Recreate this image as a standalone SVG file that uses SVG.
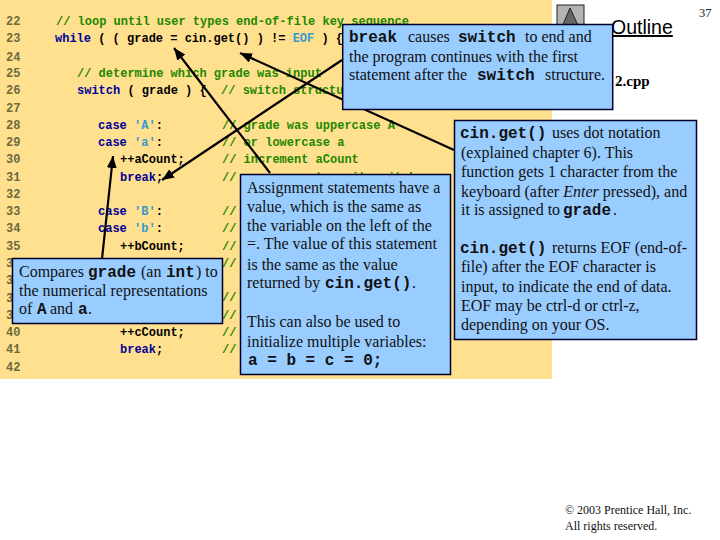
<svg xmlns="http://www.w3.org/2000/svg" width="720" height="540" viewBox="0 0 720 540">
<style>
text{white-space:pre}
.n{font:bold 12px "Liberation Mono",monospace;fill:#6b6b3c}
.c{font:bold 12px "Liberation Mono",monospace;fill:#000}
.k{fill:#000099}.g{fill:#228800}.t{fill:#3399cc}
.box{fill:#99ccff;stroke:#00002a;stroke-width:1.5}
.s{font:16px "Liberation Serif",serif;fill:#111}
.m{font:bold 16px "Liberation Mono",monospace;fill:#111}
.cn{fill:none;stroke:#000;stroke-width:2.2;marker-end:url(#ah)}
</style>
<defs><marker id="ah" markerUnits="userSpaceOnUse" markerWidth="14" markerHeight="12" refX="12" refY="5" orient="auto"><path d="M0 0L12 5L0 10z" fill="#000"/></marker></defs>
<rect width="720" height="540" fill="#fff"/>
<rect width="552" height="379" fill="#ffe08f"/>
<g id="code">
<text class="n" x="6" y="25">22</text><text class="n" x="6" y="42">23</text><text class="n" x="6" y="61">24</text><text class="n" x="6" y="77">25</text><text class="n" x="6" y="94">26</text><text class="n" x="6" y="112">27</text><text class="n" x="6" y="129">28</text><text class="n" x="6" y="146">29</text><text class="n" x="6" y="163">30</text><text class="n" x="6" y="181">31</text><text class="n" x="6" y="198">32</text><text class="n" x="6" y="215">33</text><text class="n" x="6" y="232">34</text><text class="n" x="6" y="250">35</text><text class="n" x="6" y="267">36</text><text class="n" x="6" y="284">37</text><text class="n" x="6" y="302">38</text><text class="n" x="6" y="319">39</text><text class="n" x="6" y="336">40</text><text class="n" x="6" y="353">41</text><text class="n" x="6" y="371">42</text>
<text class="c g" x="56" y="25">// loop until user types end-of-file key sequence</text>
<text class="c" x="55" y="42"><tspan class="k">while</tspan> ( ( grade = cin.get() ) != <tspan class="t">EOF</tspan> ) {</text>
<text class="c g" x="77" y="77">// determine which grade was input</text>
<text class="c" x="77" y="94"><tspan class="k">switch</tspan> ( grade ) {  <tspan class="g">// switch structure</tspan></text>
<text class="c" x="98" y="129"><tspan class="k">case</tspan> <tspan class="t">'A'</tspan>:</text>
<text class="c g" x="222" y="129">// grade was uppercase A</text>
<text class="c" x="98" y="146"><tspan class="k">case</tspan> <tspan class="t">'a'</tspan>:</text>
<text class="c g" x="222" y="146">// or lowercase a</text>
<text class="c" x="120" y="163">++aCount;</text>
<text class="c g" x="222" y="163">// increment aCount</text>
<text class="c k" x="120" y="181">break<tspan fill="#000">;</tspan></text>
<text class="c g" x="222" y="181">// necessary to exit switch</text>
<text class="c" x="98" y="215"><tspan class="k">case</tspan> <tspan class="t">'B'</tspan>:</text>
<text class="c g" x="222" y="215">//</text>
<text class="c" x="98" y="232"><tspan class="k">case</tspan> <tspan class="t">'b'</tspan>:</text>
<text class="c g" x="222" y="232">//</text>
<text class="c" x="120" y="250">++bCount;</text>
<text class="c g" x="222" y="250">//</text>
<text class="c g" x="222" y="267">//</text>
<text class="c g" x="222" y="301">//</text>
<text class="c g" x="222" y="319">//</text>
<text class="c" x="120" y="336">++cCount;</text>
<text class="c g" x="222" y="336">//</text>
<text class="c k" x="120" y="353">break<tspan fill="#000">;</tspan></text>
<text class="c g" x="222" y="353">//</text>
</g>
<g id="outline-nav">
<rect x="557" y="5" width="27" height="30" fill="#b3b3b3" stroke="#222" stroke-width="1"/>
<path d="M570 8L559 34H582z" fill="#666" stroke="#222" stroke-width="1"/>
<text x="611" y="34" font-family="Liberation Sans,sans-serif" font-size="19.5" text-decoration="underline" fill="#000">Outline</text>
<text x="615" y="86" font-family="Liberation Serif,serif" font-weight="bold" font-size="15" fill="#000">2.cpp</text>
<text x="699" y="17" font-family="Liberation Serif,serif" font-size="12.5" fill="#222">37</text>
</g>
<g id="connectors">
<path class="cn" d="M342 60L162 180"/>
<path class="cn" d="M454 150L240 53"/>
<path class="cn" d="M270 173L174 48"/>
<path class="cn" d="M102 259L113 156"/>
</g>
<g id="note-break">
<rect class="box" x="342.7" y="24.5" width="270" height="85"/>
<text class="m" x="349" y="42">break</text><text class="s" x="408" y="42">causes</text><text class="m" x="458" y="42">switch</text><text class="s" x="525" y="42">to end and</text>
<text class="s" x="349" y="62">the program continues with the first</text>
<text class="s" x="349" y="80">statement after the</text><text class="m" x="477" y="80">switch</text><text class="s" x="545" y="80">structure.</text>
</g>
<g id="note-cinget">
<rect class="box" x="454.5" y="120.5" width="242" height="219"/>
<text class="m" x="460" y="138">cin.get()</text><text class="s" x="552" y="138">uses dot notation</text>
<text class="s" x="461" y="158">(explained chapter 6). This</text>
<text class="s" x="461" y="177">function gets 1 character from the</text>
<text class="s" x="461" y="197">keyboard (after <tspan font-style="italic">Enter</tspan> pressed), and</text>
<text class="s" x="461" y="215">it is assigned to</text><text class="m" x="563" y="215">grade</text><text class="s" x="613" y="215">.</text>
<text class="m" x="460" y="253">cin.get()</text><text class="s" x="552" y="253">returns EOF (end-of-</text>
<text class="s" x="461" y="272">file) after the EOF character is</text>
<text class="s" x="461" y="292">input, to indicate the end of data.</text>
<text class="s" x="461" y="311">EOF may be ctrl-d or ctrl-z,</text>
<text class="s" x="461" y="330">depending on your OS.</text>
</g>
<g id="note-assign">
<rect class="box" x="240.5" y="174.5" width="210" height="200"/>
<text class="s" x="247" y="193">Assignment statements have a</text>
<text class="s" x="247" y="212">value, which is the same as</text>
<text class="s" x="247" y="231">the variable on the left of the</text>
<text class="s" x="247" y="249">=. The value of this statement</text>
<text class="s" x="247" y="270">is the same as the value</text>
<text class="s" x="247" y="288">returned by</text><text class="m" x="325" y="288">cin.get()</text><text class="s" x="412" y="288">.</text>
<text class="s" x="247" y="327">This can also be used to</text>
<text class="s" x="247" y="347">initialize multiple variables:</text>
<text class="m" x="248" y="365">a = b = c = 0;</text>
</g>
<g id="note-compare">
<rect class="box" x="12.5" y="258.5" width="210" height="65"/>
<text class="s" x="19" y="277">Compares</text><text class="m" x="88" y="277">grade</text><text class="s" x="141" y="277">(an</text><text class="m" x="166" y="277">int</text><text class="s" x="196" y="277">) to</text>
<text class="s" x="19" y="296">the numerical representations</text>
<text class="s" x="19" y="314">of</text><text class="m" x="37" y="314">A</text><text class="s" x="50" y="314">and</text><text class="m" x="78" y="314">a</text><text class="s" x="88" y="314">.</text>
</g>
<g id="copyright" font-family="Liberation Serif,serif" font-size="12" fill="#111">
<text x="565" y="514">© 2003 Prentice Hall, Inc.</text>
<text x="565" y="530">All rights reserved.</text>
</g>
</svg>
